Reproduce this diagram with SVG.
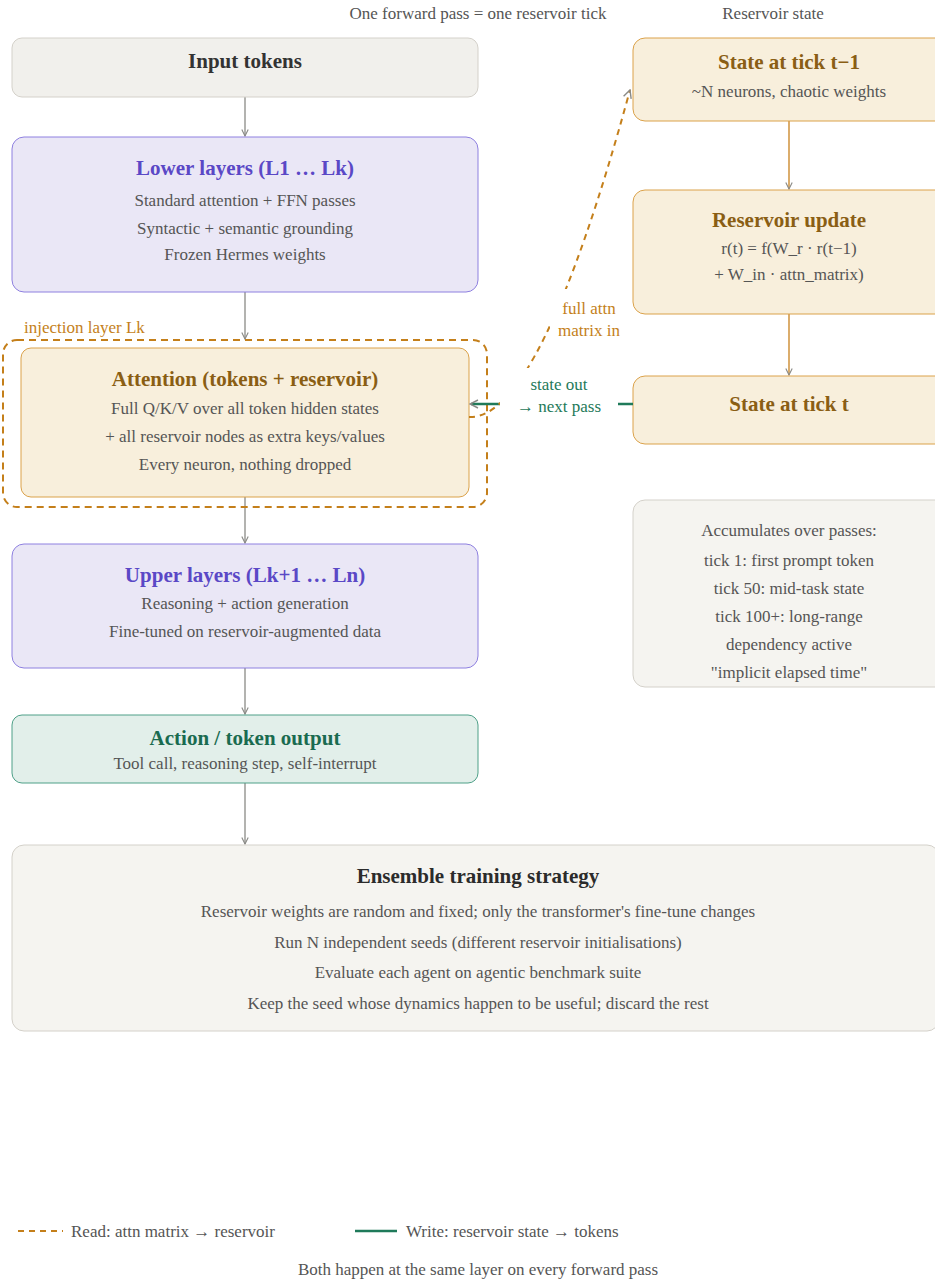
<svg xmlns="http://www.w3.org/2000/svg" width="935" height="1280" viewBox="0 0 935 1280">
<defs>
<style>
text{font-family:"Liberation Serif","Times New Roman",serif;}
.hdr{font-size:17px;fill:#555;text-anchor:middle;}
.t{font-size:21px;font-weight:bold;text-anchor:middle;}
.b{font-size:17px;fill:#555;text-anchor:middle;}
.lbl{font-size:17px;text-anchor:middle;}
.gray{fill:#f1f0ec;stroke:#d4d1ca;stroke-width:1;}
.purp{fill:#eae7f6;stroke:#8e80e0;stroke-width:1;}
.amb{fill:#f8efdc;stroke:#dba24a;stroke-width:1;}
.grn{fill:#e2efea;stroke:#4ea088;stroke-width:1;}
.note{fill:#f5f4f0;stroke:#d4d1ca;stroke-width:1;}
.conn{fill:none;stroke:#8a8a86;stroke-width:1.3;}
.oconn{fill:none;stroke:#c8811e;stroke-width:1.3;}
.read{fill:none;stroke:#c47f1a;stroke-width:2;stroke-dasharray:6 5;}
.write{fill:none;stroke:#1f7a5a;stroke-width:2.5;}
</style>
<marker id="ah" viewBox="0 0 10 10" refX="9" refY="5" markerWidth="8" markerHeight="8" markerUnits="userSpaceOnUse" orient="auto">
<path d="M1,1 L9,5 L1,9" fill="none" stroke="#8a8a86" stroke-width="1.4"/>
</marker>
<marker id="ahL" viewBox="0 0 10 10" refX="9" refY="5" markerWidth="10" markerHeight="10" markerUnits="userSpaceOnUse" orient="auto">
<path d="M1,1 L9,5 L1,9" fill="none" stroke="#8a8a86" stroke-width="1.4"/>
</marker>
</defs>

<rect width="935" height="1280" fill="#ffffff"/>

<text class="hdr" x="478" y="19">One forward pass = one reservoir tick</text>
<text class="hdr" x="773" y="19">Reservoir state</text>

<g id="connectors">
<line class="conn" x1="245" y1="97" x2="245" y2="136" marker-end="url(#ah)"/>
<line class="conn" x1="245" y1="292" x2="245" y2="339" marker-end="url(#ah)"/>
<line class="conn" x1="245" y1="497" x2="245" y2="543" marker-end="url(#ah)"/>
<line class="conn" x1="245" y1="668" x2="245" y2="714" marker-end="url(#ah)"/>
<line class="conn" x1="245" y1="783" x2="245" y2="844" marker-end="url(#ah)"/>
<line class="oconn" x1="789" y1="121" x2="789" y2="189" marker-end="url(#ah)"/>
<line class="oconn" x1="789" y1="314" x2="789" y2="375" marker-end="url(#ah)"/>
</g>

<g id="node-input">
<rect class="gray" x="12" y="38" width="466" height="59" rx="10"/>
<text class="t" x="245" y="68" fill="#333">Input tokens</text>
</g>

<g id="node-lower">
<rect class="purp" x="12" y="137" width="466" height="155" rx="12"/>
<text class="t" x="245" y="175" fill="#5a48c6">Lower layers (L1 … Lk)</text>
<text class="b" x="245" y="206">Standard attention + FFN passes</text>
<text class="b" x="245" y="234">Syntactic + semantic grounding</text>
<text class="b" x="245" y="260">Frozen Hermes weights</text>
</g>

<g id="node-injection">
<text x="24" y="333" font-size="17" fill="#c47f1a">injection layer Lk</text>
<rect x="3" y="340" width="484" height="167" rx="14" fill="none" stroke="#c47f1a" stroke-width="2" stroke-dasharray="7 5"/>
</g>

<g id="node-attention">
<rect class="amb" x="21" y="348" width="448" height="149" rx="10"/>
<text class="t" x="245" y="386" fill="#8a5e14">Attention (tokens + reservoir)</text>
<text class="b" x="245" y="414">Full Q/K/V over all token hidden states</text>
<text class="b" x="245" y="442">+ all reservoir nodes as extra keys/values</text>
<text class="b" x="245" y="470">Every neuron, nothing dropped</text>
</g>

<g id="node-upper">
<rect class="purp" x="12" y="544" width="466" height="124" rx="12"/>
<text class="t" x="245" y="582" fill="#5a48c6">Upper layers (Lk+1 … Ln)</text>
<text class="b" x="245" y="609">Reasoning + action generation</text>
<text class="b" x="245" y="637">Fine-tuned on reservoir-augmented data</text>
</g>

<g id="node-action">
<rect class="grn" x="12" y="715" width="466" height="68" rx="10"/>
<text class="t" x="245" y="745" fill="#1a6b50">Action / token output</text>
<text class="b" x="245" y="769">Tool call, reasoning step, self-interrupt</text>
</g>

<g id="node-ensemble">
<rect class="note" x="12" y="845" width="927" height="186" rx="12"/>
<text class="t" x="478" y="883" fill="#2b2b2b">Ensemble training strategy</text>
<text class="b" x="478" y="917">Reservoir weights are random and fixed; only the transformer's fine-tune changes</text>
<text class="b" x="478" y="948">Run N independent seeds (different reservoir initialisations)</text>
<text class="b" x="478" y="978">Evaluate each agent on agentic benchmark suite</text>
<text class="b" x="478" y="1009">Keep the seed whose dynamics happen to be useful; discard the rest</text>
</g>

<g id="node-state-prev">
<rect class="amb" x="633" y="38" width="315" height="83" rx="12"/>
<text class="t" x="789" y="69" fill="#8a5e14">State at tick t−1</text>
<text class="b" x="789" y="97">~N neurons, chaotic weights</text>
</g>

<g id="node-update">
<rect class="amb" x="633" y="190" width="315" height="124" rx="12"/>
<text class="t" x="789" y="227" fill="#8a5e14">Reservoir update</text>
<text class="b" x="789" y="254">r(t) = f(W_r · r(t−1)</text>
<text class="b" x="789" y="280">+ W_in · attn_matrix)</text>
</g>

<g id="node-state-t">
<rect class="amb" x="633" y="376" width="315" height="68" rx="12"/>
<text class="t" x="789" y="411" fill="#8a5e14">State at tick t</text>
</g>

<g id="node-accum">
<rect class="note" x="633" y="500" width="315" height="187" rx="12"/>
<text class="b" x="789" y="536">Accumulates over passes:</text>
<text class="b" x="789" y="566">tick 1: first prompt token</text>
<text class="b" x="789" y="594">tick 50: mid-task state</text>
<text class="b" x="789" y="622">tick 100+: long-range</text>
<text class="b" x="789" y="650">dependency active</text>
<text class="b" x="789" y="678">"implicit elapsed time"</text>
</g>

<g id="flow-connectors">
<line class="write" x1="633" y1="404" x2="471" y2="404"/>
<path class="read" d="M469,417 Q540,420 630,90"/>
<path d="M621,116 L630,90" fill="none" stroke="none" marker-end="url(#ahL)"/>
<rect x="550" y="289" width="76" height="54" fill="#ffffff"/>
<text class="lbl" x="589" y="314" fill="#c47f1a">full attn</text>
<text class="lbl" x="589" y="336" fill="#c47f1a">matrix in</text>
<rect x="500" y="368" width="118" height="50" fill="#ffffff"/>
<text class="lbl" x="559" y="390" fill="#1f7a5a">state out</text>
<text class="lbl" x="559" y="412" fill="#1f7a5a">→ next pass</text>
<path d="M480,404 L470,404" fill="none" stroke="none" marker-end="url(#ahL)"/>
</g>

<g id="legend">
<line x1="18" y1="1231" x2="63" y2="1231" stroke="#c47f1a" stroke-width="2" stroke-dasharray="6 5"/>
<text x="71" y="1237" font-size="17" fill="#555">Read: attn matrix → reservoir</text>
<line x1="355" y1="1231" x2="397" y2="1231" stroke="#1f7a5a" stroke-width="2.5"/>
<text x="406" y="1237" font-size="17" fill="#555">Write: reservoir state → tokens</text>
<text class="hdr" x="478" y="1275">Both happen at the same layer on every forward pass</text>
</g>
</svg>
